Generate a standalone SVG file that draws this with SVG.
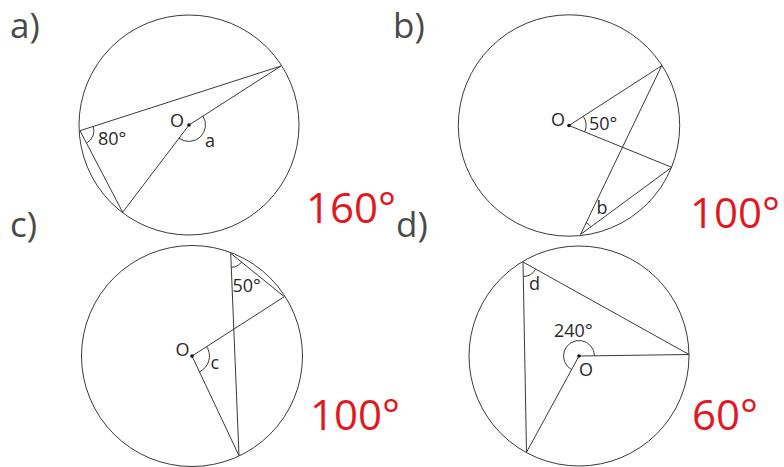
<svg xmlns="http://www.w3.org/2000/svg" width="784" height="467" viewBox="0 0 784 467">
<style>
.c{fill:none;stroke:#3a3a3a;stroke-width:1}
.l{fill:none;stroke:#3a3a3a;stroke-width:1}
.dot{fill:#111}
.s{font-family:'Open Sans','Liberation Sans',sans-serif;font-size:18px;fill:#2a2a2a}
.big{font-family:'Open Sans','Liberation Sans',sans-serif;font-size:35px;fill:#4a4a4a}
.ans{font-family:'Open Sans','Liberation Sans',sans-serif;font-size:42px;fill:#e0181f}
</style>
<rect width="784" height="467" fill="#fff"/>
<g id="panel-a">
<text class="big" x="10" y="38">a)</text>
<circle class="c" cx="189" cy="125" r="110"/>
<g id="connectors-a">
<line class="l" x1="80" y1="130.7" x2="281" y2="66"/>
<line class="l" x1="80" y1="130.7" x2="122.7" y2="212.3"/>
<line class="l" x1="189" y1="125" x2="281" y2="66"/>
<line class="l" x1="189" y1="125" x2="122.7" y2="212.3"/>
<path class="l" d="M202.9,116.1 A16.5,16.5 0 0 1 179,138.1"/>
<path class="l" d="M93.3,126.4 A14,14 0 0 1 86.5,143.1"/>
</g>
<circle class="dot" cx="189" cy="125" r="1.8"/>
<text class="s" x="170" y="127">O</text>
<text class="s" x="205" y="146.5">a</text>
<text class="s" x="98" y="144.5">80°</text>
<text class="ans" x="306" y="223">160°</text>
</g>
<g id="panel-b">
<text class="big" x="393" y="38">b)</text>
<circle class="c" cx="569" cy="125.5" r="110.7"/>
<g id="connectors-b">
<line class="l" x1="569" y1="125.5" x2="661.7" y2="65.7"/>
<line class="l" x1="569" y1="125.5" x2="671.7" y2="167.3"/>
<line class="l" x1="661.7" y1="65.7" x2="580.5" y2="234.5"/>
<line class="l" x1="580.5" y1="234.5" x2="671.7" y2="167.3"/>
<path class="l" d="M583.3,116.3 A17,17 0 0 1 584.8,131.9"/>
<path class="l" d="M586.2,222.8 A13,13 0 0 1 591,226.8"/>
</g>
<circle class="dot" cx="569" cy="125.5" r="1.8"/>
<text class="s" x="551" y="126">O</text>
<text class="s" x="589" y="129.5">50°</text>
<text class="s" x="596.5" y="214">b</text>
<text class="ans" x="690" y="228">100°</text>
</g>
<g id="panel-c">
<text class="big" x="10" y="237">c)</text>
<circle class="c" cx="192" cy="356" r="110.5"/>
<g id="connectors-c">
<line class="l" x1="230.7" y1="253.3" x2="239" y2="455.7"/>
<line class="l" x1="230.7" y1="253.3" x2="284.3" y2="296.7"/>
<line class="l" x1="192" y1="356" x2="284.3" y2="296.7"/>
<line class="l" x1="192" y1="356" x2="239" y2="455.7"/>
<path class="l" d="M206.7,346.5 A17.5,17.5 0 0 1 199.5,371.8"/>
<path class="l" d="M241.6,262.1 A14,14 0 0 1 231.3,267.3"/>
</g>
<circle class="dot" cx="192" cy="356" r="1.8"/>
<text class="s" x="175.5" y="356">O</text>
<text class="s" x="210.5" y="368.5">c</text>
<text class="s" x="232.5" y="291.7">50°</text>
<text class="ans" x="310" y="430">100°</text>
</g>
<g id="panel-d">
<text class="big" x="396" y="237">d)</text>
<circle class="c" cx="579" cy="356" r="110"/>
<g id="connectors-d">
<line class="l" x1="523" y1="262" x2="526.5" y2="452.3"/>
<line class="l" x1="523" y1="262" x2="689" y2="354.5"/>
<line class="l" x1="579" y1="356" x2="689" y2="354.5"/>
<line class="l" x1="579" y1="356" x2="526.5" y2="452.3"/>
<path class="l" d="M594.5,355.8 A15.5,15.5 0 1 0 571.6,369.6"/>
<path class="l" d="M535.7,269.1 A14.5,14.5 0 0 1 523.3,276.5"/>
</g>
<circle class="dot" cx="579" cy="356" r="1.8"/>
<text class="s" x="579" y="375.5">O</text>
<text class="s" x="529" y="290">d</text>
<text class="s" x="554" y="336.7">240°</text>
<text class="ans" x="692" y="430">60°</text>
</g>
</svg>
